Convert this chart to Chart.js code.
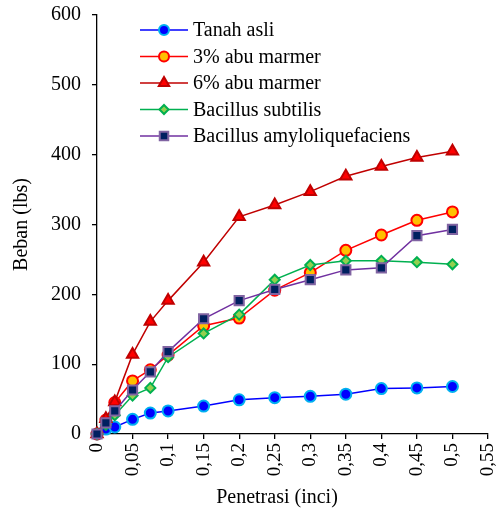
<!DOCTYPE html>
<html>
<head>
<meta charset="utf-8">
<script src="https://cdn.jsdelivr.net/npm/chart.js@4"></script>
<style>
  html, body { margin: 0; padding: 0; background: #fff; }
  #wrap { width: 497px; height: 514px; }
</style>
</head>
<body>
<div id="wrap"><canvas id="chart"></canvas></div>
<script>
// data
const penetrasi = [0, 0.0125, 0.025, 0.05, 0.075, 0.1, 0.15, 0.2, 0.25, 0.3, 0.35, 0.4, 0.45, 0.5];
const tanahAsli = [0, 7, 10, 21, 30, 33, 40, 49, 52, 54, 57, 65, 66, 68];
const abu3      = [0, 20, 45, 76, 92, 113, 155, 166, 206, 231, 263, 285, 306, 318];
const abu6      = [0, 22, 46, 114, 161, 191, 246, 311, 328, 347, 369, 383, 396, 405];
const subtilis  = [0, 13, 27, 55, 66, 110, 144, 171, 221, 242, 248, 248, 246, 243];
const amylo     = [0, 16, 33, 63, 89, 118, 165, 191, 207, 221, 235, 238, 284, 293];

const seriesNames = ["Tanah asli", "3% abu marmer", "6% abu marmer", "Bacillus subtilis", "Bacillus amyloliquefaciens"];
const xTicks = [0, 0.05, 0.1, 0.15, 0.2, 0.25, 0.3, 0.35, 0.4, 0.45, 0.5, 0.55];
const yTicks = [0, 100, 200, 300, 400, 500, 600];
const xTitle = "Penetrasi (inci)";
const yTitle = "Beban (lbs)";

const FONT = '"Liberation Serif", "Times New Roman", serif';

function toPoints(ys) {
    return penetrasi.map((x, i) => ({ x: x, y: ys[i] }));
}

function makeSet(label, ys, line, fill, border, style, radius, order) {
    return {
        label: label,
        data: toPoints(ys),
        borderColor: line,
        borderWidth: 1.5,
        pointStyle: style,
        pointRadius: radius,
        pointBackgroundColor: fill,
        pointBorderColor: border,
        pointBorderWidth: 2,
        tension: 0,
        clip: false,
        order: order
    };
}

const datasets = [
    makeSet(seriesNames[0], tanahAsli, "#0000FF", "#0000FF", "#00B0F0", "circle", 5.5, 4),
    makeSet(seriesNames[1], abu3, "#FF0000", "#FFC000", "#FF0000", "circle", 5.5, 3),
    makeSet(seriesNames[2], abu6, "#C00000", "#FF0000", "#C00000", "triangle", 6.5, 2),
    makeSet(seriesNames[3], subtilis, "#00B050", "#92D050", "#00B050", "rectRot", 5, 1),
    makeSet(seriesNames[4], amylo, "#7030A0", "#002060", "#8064A2", "rect", 6.5, 0)
];

// legend inside the plot (top left) + x axis title, which sits a bit left of centre
const boxLegend = {
    id: "boxLegend",
    afterDraw(chart) {
        const ctx = chart.ctx;
        ctx.save();
        ctx.font = "20px " + FONT;
        chart.data.datasets.forEach((ds, i) => {
            const y = 30 + i * 26.5;
            ctx.strokeStyle = ds.borderColor;
            ctx.lineWidth = 1.5;
            ctx.beginPath();
            ctx.moveTo(140, y);
            ctx.lineTo(188, y);
            ctx.stroke();

            ctx.fillStyle = ds.pointBackgroundColor;
            ctx.strokeStyle = ds.pointBorderColor;
            ctx.lineWidth = ds.pointBorderWidth;
            Chart.helpers.drawPoint(ctx, {
                pointStyle: ds.pointStyle,
                radius: ds.pointRadius - 0.5,
                rotation: 0,
                borderWidth: ds.pointBorderWidth
            }, 164, y);

            ctx.fillStyle = "#000";
            ctx.textBaseline = "middle";
            ctx.textAlign = "left";
            ctx.fillText(ds.label, 193, y + 1);
        });

        ctx.fillStyle = "#000";
        ctx.textAlign = "center";
        ctx.textBaseline = "middle";
        ctx.fillText(xTitle, 277, 498);
        ctx.restore();
    }
};

new Chart(document.getElementById("chart"), {
    type: "line",
    data: { datasets: datasets },
    options: {
        responsive: true,
        maintainAspectRatio: false,
        animation: false,
        layout: { padding: { top: 15, right: 9, left: 0, bottom: 0 } },
        plugins: {
            legend: { display: false },
            tooltip: { enabled: false }
        },
        scales: {
            x: {
                type: "linear",
                min: 0,
                max: 0.55,
                afterBuildTicks: s => { s.ticks = xTicks.map(v => ({ value: v })); },
                afterFit: s => { s.height = 80; s.paddingLeft = 0; s.paddingRight = 0; },
                grid: { drawOnChartArea: false, drawTicks: true, tickLength: 5, color: "#000", lineWidth: 1.3 },
                border: { color: "#000", width: 1.3 },
                ticks: {
                    color: "#000",
                    font: { family: FONT, size: 19 },
                    minRotation: 90,
                    maxRotation: 90,
                    padding: 4,
                    callback: v => String(Number(v.toFixed(2))).replace(".", ",")
                }
            },
            y: {
                min: 0,
                max: 600,
                afterBuildTicks: s => { s.ticks = yTicks.map(v => ({ value: v })); },
                afterFit: s => { s.width = 97; s.paddingTop = 0; s.paddingBottom = 0; },
                grid: { drawOnChartArea: false, drawTicks: true, tickLength: 5, color: "#000", lineWidth: 1.3 },
                border: { color: "#000", width: 1.3 },
                ticks: {
                    color: "#000",
                    font: { family: FONT, size: 20 },
                    padding: 11
                },
                title: {
                    display: true,
                    text: yTitle,
                    color: "#000",
                    font: { family: FONT, size: 20 },
                    padding: { top: 10, bottom: 0 }
                }
            }
        }
    },
    plugins: [boxLegend]
});
</script>
</body>
</html>
